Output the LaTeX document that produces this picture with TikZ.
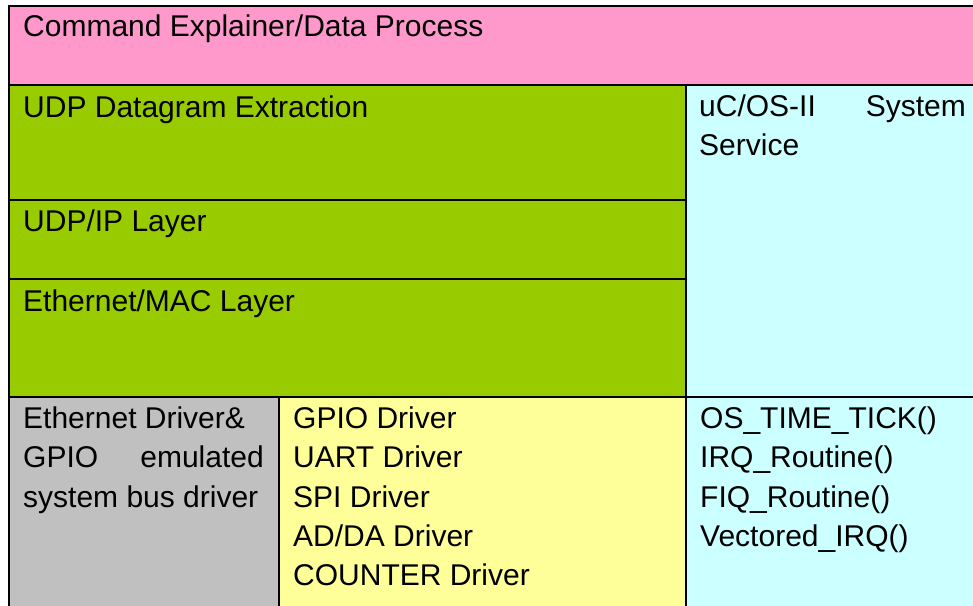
\documentclass[tikz,border=0pt]{standalone}
\usepackage{fontspec}
\setmainfont{Liberation Sans}
\definecolor{cpink}{HTML}{FF99CC}
\definecolor{cgreen}{HTML}{99CC00}
\definecolor{ccyan}{HTML}{CCFFFF}
\definecolor{cgray}{HTML}{C0C0C0}
\definecolor{cyellow}{HTML}{FFFF99}
\begin{document}
\begin{tikzpicture}[x=1bp,y=-1bp,
  lbl/.style={inner sep=0pt,anchor=base west,font=\fontsize{30bp}{39bp}\selectfont},
  lblr/.style={lbl,anchor=base east},
  outer/.style={line width=2bp,black},
  inner/.style={line width=1.3bp,black}]
\useasboundingbox (0,0) rectangle (973,606);
\fill[white] (0,0) rectangle (973,606);
% cells
\fill[cpink]   (9,6)    rectangle (973,85);
\fill[cgreen]  (9,85)   rectangle (686,397);
\fill[ccyan]   (686,85) rectangle (973,606);
\fill[cgray]   (9,397)  rectangle (279,606);
\fill[cyellow] (279,397) rectangle (686,606);
% grid lines
\draw[inner] (9,85) -- (973,85);
\draw[inner] (9,200) -- (686,200);
\draw[inner] (9,279) -- (686,279);
\draw[inner] (686,85) -- (686,606);
\draw[inner] (279,397) -- (279,606);
\draw[outer] (8,397) -- (973,397);
\draw[outer] (8,6) -- (973,6);
\draw[outer] (9,5) -- (9,606);
% texts
\node[lbl] (cmd) at (23,37) {Command Explainer/Data Process};
\node[lbl] (udpx) at (23,118) {UDP Datagram Extraction};
\node[lbl] (udpip) at (23,232) {UDP/IP Layer};
\node[lbl] (mac) at (23,311) {Ethernet/MAC Layer};
\node[lbl] (uc) at (699,117) {uC/OS-II};
\node[lblr] (sys) at (966,117) {System};
\node[lbl] (svc) at (699,156) {Service};
\node[lbl] (eth1) at (23,428) {Ethernet Driver\&};
\node[lbl] (eth2a) at (23,467) {GPIO};
\node[lblr] (eth2b) at (264,467) {emulated};
\node[lbl] (eth3) at (23,507) {system bus driver};
\node[lbl] (d1) at (293,428) {GPIO Driver};
\node[lbl] (d2) at (293,467) {UART Driver};
\node[lbl] (d3) at (293,507) {SPI Driver};
\node[lbl] (d4) at (293,546) {AD/DA Driver};
\node[lbl] (d5) at (293,585) {COUNTER Driver};
\node[lbl] (o1) at (700,428) {OS\_TIME\_TICK()};
\node[lbl] (o2) at (700,467) {IRQ\_Routine()};
\node[lbl] (o3) at (700,507) {FIQ\_Routine()};
\node[lbl] (o4) at (700,546) {Vectored\_IRQ()};
\end{tikzpicture}
\end{document}
